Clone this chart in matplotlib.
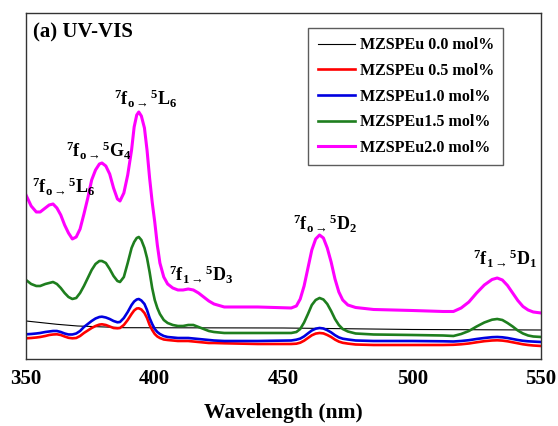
#!/usr/bin/env python3
"""UV-VIS absorbance spectra of MZSPEu samples (panel a)."""
import matplotlib
matplotlib.use("Agg")
import matplotlib.pyplot as plt

# wavelength grid (nm) shared by the doped samples
wavelength = [350, 352, 354, 355.5, 357.5, 359, 360.5, 362, 363.5, 365,
              366.5, 368, 369.5, 371, 372.5, 374, 375.5, 377, 378.5, 379.5,
              381, 382.5, 384, 385.5, 386.5, 388, 389.5, 391, 392, 393,
              393.8, 394.8, 396, 397, 398, 399, 400, 401, 402, 403.5,
              405, 407, 409, 411, 413, 415, 417, 419, 421, 423,
              427, 440, 453,
              455, 456.5, 458, 459.5, 461, 462.5, 464, 465.5, 467, 468.5,
              470, 471.5, 473, 475, 478, 485,
              500, 512, 516, 519, 522, 525, 528, 531, 533, 535,
              537, 539, 541, 543, 545, 547, 550]

# absorbance (a.u.)
abs_eu05 = [20.7, 21, 21.5, 22, 23, 24, 24.5, 24.7, 24, 22.5,
            21.2, 20.7, 21, 23, 26, 28.5, 31, 33, 34.4, 34.7,
            34, 32.5, 31, 30.7, 31, 34, 39, 45, 48.5, 50.5,
            50.7, 49.5, 46, 41, 34, 29, 25, 22.5, 21, 19.5,
            19, 18.5, 18, 18, 18, 17.5, 17, 16.5, 16, 16,
            15.7, 15, 15,
            15.3, 16.3, 18.3, 21, 23.7, 25.4, 26, 25.6, 24, 22,
            19.4, 17.4, 16.2, 15.4, 14.5, 14,
            14, 14, 14.2, 14.7, 15.5, 16.7, 17.8, 18.5, 18.7, 18.4,
            17.7, 16.7, 15.7, 14.7, 14, 13.5, 13]
abs_eu10 = [24.7, 25, 25.5, 26, 27, 27.5, 28, 28, 27, 25.5,
            24.5, 24.5, 25.5, 28, 32, 35, 38, 40.5, 42, 42.3,
            41.5, 40, 38, 36.7, 37, 41, 47, 54, 57.5, 59.5,
            60, 58.5, 55, 49, 41, 35, 30, 27, 25, 23,
            22, 21.5, 21, 21, 21, 20.5, 20, 19.5, 19, 18.5,
            18, 18, 18.5,
            19.3, 20.4, 22.6, 25.6, 28.5, 30.3, 31, 30.5, 28.8, 26.6,
            23.8, 21.6, 20.3, 19.5, 18.5, 18,
            18, 17.7, 17.5, 18, 18.8, 20, 21, 21.8, 22, 21.7,
            21, 20, 19, 18.2, 17.7, 17.4, 17]
abs_eu15 = [79, 75, 73, 73, 75, 76, 77, 75, 71, 66,
            62, 60, 61, 66, 73, 81, 89, 95, 98, 98,
            96, 90, 83, 78, 77, 82, 96, 111, 117, 121,
            122, 119, 111, 101, 87, 71, 59, 51, 45, 39,
            36, 34, 33, 33, 34, 34, 32, 30, 28, 27,
            26, 26, 26,
            27, 30, 36.5, 45, 54, 59, 61, 59.5, 55, 48,
            40, 34, 30, 27.5, 25.5, 24.5,
            24, 23.5, 23, 25, 28, 32.5, 36.5, 39.3, 40, 39,
            36, 32.5, 28.5, 25.5, 23.5, 22.5, 22]
abs_eu20 = [164, 153, 147, 147, 151, 154, 155, 151, 144, 134,
            126, 120, 122, 130, 145, 161, 179, 189, 195, 196,
            193, 185, 171, 160, 158, 166, 184, 209, 232, 244,
            247, 243, 231, 209, 181, 157, 137, 114, 96, 82,
            75, 71, 69, 69, 70, 69, 66, 62, 58, 55,
            52, 52, 51,
            53, 60, 73, 91, 109, 120, 124, 121, 111, 97,
            80, 67, 59, 54, 51.5, 49.5,
            48.5, 47.5, 47.5, 51, 57, 66, 74, 79.5, 81, 79,
            73.5, 66, 58.5, 52.5, 49, 47, 46]

# undoped sample: nearly flat baseline
wavelength_eu00 = [350, 362, 370, 388, 450, 500, 550]
abs_eu00 = [38, 34.7, 33, 31.3, 31, 29.5, 29]

labels = ["MZSPEu 0.0 mol%", "MZSPEu 0.5 mol%", "MZSPEu1.0 mol%",
          "MZSPEu1.5 mol%", "MZSPEu2.0 mol%"]
colors = ["black", "#FF0000", "#0000E0", "#1E7E1E", "#FF00FF"]

# band assignments
band_text = [r"${}^{7}\mathrm{f}_{o\rightarrow}{}^{5}\mathrm{L}_{6}$",
             r"${}^{7}\mathrm{f}_{o\rightarrow}{}^{5}\mathrm{G}_{4}$",
             r"${}^{7}\mathrm{f}_{o\rightarrow}{}^{5}\mathrm{L}_{6}$",
             r"${}^{7}\mathrm{f}_{1\rightarrow}{}^{5}\mathrm{D}_{3}$",
             r"${}^{7}\mathrm{f}_{o\rightarrow}{}^{5}\mathrm{D}_{2}$",
             r"${}^{7}\mathrm{f}_{1\rightarrow}{}^{5}\mathrm{D}_{1}$"]
band_x = [364.6, 378.2, 396.4, 418.2, 466.3, 536.2]
band_y = [172, 208, 260, 84, 135, 100]

plt.rcParams["font.family"] = "Liberation Serif"
plt.rcParams["font.weight"] = "bold"
plt.rcParams["mathtext.fontset"] = "custom"
plt.rcParams["mathtext.rm"] = "Liberation Serif:bold"
plt.rcParams["mathtext.it"] = "Liberation Serif:bold"
plt.rcParams["mathtext.bf"] = "Liberation Serif:bold"

fig = plt.figure(figsize=(5.58, 4.26), dpi=100)
ax = fig.add_axes([0.0466, 0.1573, 0.9229, 0.8122])

ax.plot(wavelength_eu00, abs_eu00, color=colors[0], lw=0.8, label=labels[0])
ax.plot(wavelength, abs_eu05, color=colors[1], lw=1.9, label=labels[1])
ax.plot(wavelength, abs_eu10, color=colors[2], lw=1.9, label=labels[2])
ax.plot(wavelength, abs_eu15, color=colors[3], lw=1.9, label=labels[3])
ax.plot(wavelength, abs_eu20, color=colors[4], lw=2.2, label=labels[4])

for txt, x, y in zip(band_text, band_x, band_y):
    ax.text(x, y, txt, fontsize=13, ha="center", va="center")

ax.text(0.013, 0.945, "(a) UV-VIS", transform=ax.transAxes, fontsize=15,
        fontweight="bold", ha="left", va="center")

ax.set_xlim(350, 550)
ax.set_ylim(0, 346)
ax.set_xticks([350, 400, 450, 500, 550])
ax.set_yticks([])
ax.tick_params(axis="x", length=0, pad=7, labelsize=15)
ax.set_xlabel("Wavelength (nm)", fontsize=15.5, fontweight="bold", labelpad=10)
for sp in ax.spines.values():
    sp.set_linewidth(1.0)
    sp.set_color("#333333")

leg = ax.legend(loc="upper right", bbox_to_anchor=(0.927, 0.957), borderaxespad=0,
                fontsize=11.5, frameon=True, fancybox=False, handlelength=2.3,
                labelspacing=0.6, borderpad=0.6, handletextpad=0.3)
leg.get_frame().set_edgecolor("#333333")
leg.get_frame().set_linewidth(1.0)

fig.savefig("out.png", dpi=100)
